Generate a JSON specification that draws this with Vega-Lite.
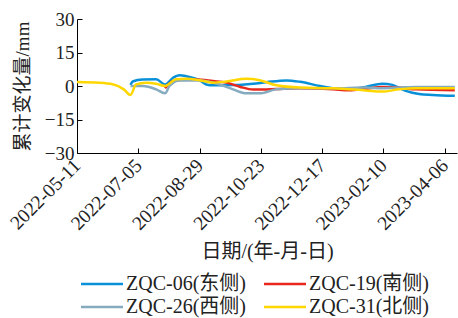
{
  "$schema": "https://vega.github.io/schema/vega-lite/v6.json",
  "autosize": "none",
  "width": 380,
  "height": 134,
  "padding": {"left": 77, "top": 19, "right": 1, "bottom": 165},
  "background": "white",
  "config": {
    "view": {"stroke": null},
    "font": "Liberation Serif, Noto Sans CJK SC",
    "axis": {"grid": false, "domainColor": "#000", "tickColor": "#000", "labelColor": "#222", "titleColor": "#222", "labelFont": "Liberation Serif", "labelFontSize": 16, "titleFont": "Liberation Serif, Noto Sans CJK SC", "titleFontSize": 16, "titleFontWeight": "normal"}
  },
  "data": {"values": [
    {"date": "2022-06-28", "series": "ZQC-06(东侧)", "value": 0.5},
    {"date": "2022-06-30", "series": "ZQC-06(东侧)", "value": 2.0},
    {"date": "2022-07-09", "series": "ZQC-06(东侧)", "value": 2.9},
    {"date": "2022-07-21", "series": "ZQC-06(东侧)", "value": 3.0},
    {"date": "2022-07-29", "series": "ZQC-06(东侧)", "value": 0.7},
    {"date": "2022-08-05", "series": "ZQC-06(东侧)", "value": 3.6},
    {"date": "2022-08-11", "series": "ZQC-06(东侧)", "value": 4.8},
    {"date": "2022-08-17", "series": "ZQC-06(东侧)", "value": 4.4},
    {"date": "2022-08-29", "series": "ZQC-06(东侧)", "value": 2.6},
    {"date": "2022-09-04", "series": "ZQC-06(东侧)", "value": 0.7},
    {"date": "2022-09-10", "series": "ZQC-06(东侧)", "value": 0.3},
    {"date": "2022-09-28", "series": "ZQC-06(东侧)", "value": 0.4},
    {"date": "2022-10-16", "series": "ZQC-06(东侧)", "value": 1.0},
    {"date": "2022-10-28", "series": "ZQC-06(东侧)", "value": 1.7},
    {"date": "2022-11-15", "series": "ZQC-06(东侧)", "value": 2.5},
    {"date": "2022-11-27", "series": "ZQC-06(东侧)", "value": 1.9},
    {"date": "2022-12-15", "series": "ZQC-06(东侧)", "value": 0.0},
    {"date": "2022-12-27", "series": "ZQC-06(东侧)", "value": -1.0},
    {"date": "2023-01-10", "series": "ZQC-06(东侧)", "value": -1.5},
    {"date": "2023-01-25", "series": "ZQC-06(东侧)", "value": -0.4},
    {"date": "2023-02-09", "series": "ZQC-06(东侧)", "value": 1.0},
    {"date": "2023-02-18", "series": "ZQC-06(东侧)", "value": 0.5},
    {"date": "2023-03-02", "series": "ZQC-06(东侧)", "value": -2.2},
    {"date": "2023-03-14", "series": "ZQC-06(东侧)", "value": -3.6},
    {"date": "2023-03-26", "series": "ZQC-06(东侧)", "value": -4.0},
    {"date": "2023-04-15", "series": "ZQC-06(东侧)", "value": -4.4},

    {"date": "2022-07-29", "series": "ZQC-19(南侧)", "value": -1.0},
    {"date": "2022-08-05", "series": "ZQC-19(南侧)", "value": 2.2},
    {"date": "2022-08-14", "series": "ZQC-19(南侧)", "value": 2.8},
    {"date": "2022-08-26", "series": "ZQC-19(南侧)", "value": 2.9},
    {"date": "2022-09-10", "series": "ZQC-19(南侧)", "value": 2.2},
    {"date": "2022-09-22", "series": "ZQC-19(南侧)", "value": 1.5},
    {"date": "2022-10-04", "series": "ZQC-19(南侧)", "value": -0.3},
    {"date": "2022-10-16", "series": "ZQC-19(南侧)", "value": -1.6},
    {"date": "2022-10-28", "series": "ZQC-19(南侧)", "value": -1.6},
    {"date": "2022-11-12", "series": "ZQC-19(南侧)", "value": -1.2},
    {"date": "2022-11-27", "series": "ZQC-19(南侧)", "value": -1.0},
    {"date": "2022-12-27", "series": "ZQC-19(南侧)", "value": -1.5},
    {"date": "2023-01-10", "series": "ZQC-19(南侧)", "value": -1.9},
    {"date": "2023-01-25", "series": "ZQC-19(南侧)", "value": -1.2},
    {"date": "2023-02-09", "series": "ZQC-19(南侧)", "value": -0.4},
    {"date": "2023-02-24", "series": "ZQC-19(南侧)", "value": -0.7},
    {"date": "2023-03-11", "series": "ZQC-19(南侧)", "value": -1.5},
    {"date": "2023-04-15", "series": "ZQC-19(南侧)", "value": -1.9},

    {"date": "2022-06-28", "series": "ZQC-26(西侧)", "value": 0.0},
    {"date": "2022-07-09", "series": "ZQC-26(西侧)", "value": 0.0},
    {"date": "2022-07-21", "series": "ZQC-26(西侧)", "value": -1.5},
    {"date": "2022-07-29", "series": "ZQC-26(西侧)", "value": -3.3},
    {"date": "2022-08-02", "series": "ZQC-26(西侧)", "value": 0.0},
    {"date": "2022-08-11", "series": "ZQC-26(西侧)", "value": 2.5},
    {"date": "2022-08-29", "series": "ZQC-26(西侧)", "value": 2.5},
    {"date": "2022-09-16", "series": "ZQC-26(西侧)", "value": 0.7},
    {"date": "2022-09-28", "series": "ZQC-26(西侧)", "value": -1.5},
    {"date": "2022-10-10", "series": "ZQC-26(西侧)", "value": -3.3},
    {"date": "2022-10-22", "series": "ZQC-26(西侧)", "value": -3.3},
    {"date": "2022-11-06", "series": "ZQC-26(西侧)", "value": -1.5},
    {"date": "2022-11-27", "series": "ZQC-26(西侧)", "value": -1.0},
    {"date": "2022-12-27", "series": "ZQC-26(西侧)", "value": -1.0},
    {"date": "2023-01-25", "series": "ZQC-26(西侧)", "value": -0.7},
    {"date": "2023-02-09", "series": "ZQC-26(西侧)", "value": -1.0},
    {"date": "2023-02-24", "series": "ZQC-26(西侧)", "value": -0.7},
    {"date": "2023-03-11", "series": "ZQC-26(西侧)", "value": -0.4},
    {"date": "2023-04-15", "series": "ZQC-26(西侧)", "value": -0.4},

    {"date": "2022-05-11", "series": "ZQC-31(北侧)", "value": 1.8},
    {"date": "2022-05-31", "series": "ZQC-31(北侧)", "value": 1.5},
    {"date": "2022-06-12", "series": "ZQC-31(北侧)", "value": 0.8},
    {"date": "2022-06-22", "series": "ZQC-31(北侧)", "value": -1.5},
    {"date": "2022-06-28", "series": "ZQC-31(北侧)", "value": -4.0},
    {"date": "2022-07-03", "series": "ZQC-31(北侧)", "value": 0.7},
    {"date": "2022-07-12", "series": "ZQC-31(北侧)", "value": 1.5},
    {"date": "2022-07-21", "series": "ZQC-31(北侧)", "value": 1.0},
    {"date": "2022-07-29", "series": "ZQC-31(北侧)", "value": 0.0},
    {"date": "2022-08-08", "series": "ZQC-31(北侧)", "value": 3.0},
    {"date": "2022-08-17", "series": "ZQC-31(北侧)", "value": 3.2},
    {"date": "2022-08-29", "series": "ZQC-31(北侧)", "value": 2.6},
    {"date": "2022-09-10", "series": "ZQC-31(北侧)", "value": 1.5},
    {"date": "2022-09-22", "series": "ZQC-31(北侧)", "value": 2.0},
    {"date": "2022-10-10", "series": "ZQC-31(北侧)", "value": 3.2},
    {"date": "2022-10-22", "series": "ZQC-31(北侧)", "value": 2.6},
    {"date": "2022-11-06", "series": "ZQC-31(北侧)", "value": 0.3},
    {"date": "2022-11-27", "series": "ZQC-31(北侧)", "value": -0.7},
    {"date": "2022-12-27", "series": "ZQC-31(北侧)", "value": -1.0},
    {"date": "2023-01-25", "series": "ZQC-31(北侧)", "value": -2.0},
    {"date": "2023-02-09", "series": "ZQC-31(北侧)", "value": -2.5},
    {"date": "2023-02-24", "series": "ZQC-31(北侧)", "value": -1.5},
    {"date": "2023-03-11", "series": "ZQC-31(北侧)", "value": -1.0},
    {"date": "2023-04-15", "series": "ZQC-31(北侧)", "value": -1.0}
  ]},
  "mark": {"type": "line", "interpolate": "monotone", "strokeWidth": 2.5},
  "encoding": {
    "x": {
      "field": "date", "type": "temporal",
      "scale": {"type": "utc", "domain": [{"year": 2022, "month": 5, "date": 11, "utc": true}, {"year": 2023, "month": 4, "date": 17, "utc": true}]},
      "axis": {
        "title": "日期/(年-月-日)",
        "values": [
          {"year": 2022, "month": 5, "date": 11, "utc": true},
          {"year": 2022, "month": 7, "date": 5, "utc": true},
          {"year": 2022, "month": 8, "date": 29, "utc": true},
          {"year": 2022, "month": 10, "date": 23, "utc": true},
          {"year": 2022, "month": 12, "date": 17, "utc": true},
          {"year": 2023, "month": 2, "date": 10, "utc": true},
          {"year": 2023, "month": 4, "date": 6, "utc": true}
        ],
        "labelExpr": "utcFormat(datum.value, '%Y-%m-%d')",
        "labelOverlap": false, "labelBound": false, "labelFlush": false,
        "labelAngle": -45, "labelAlign": "right", "labelBaseline": "middle",
        "tickSize": -5, "labelPadding": 14, "labelFontSize": 19.5,
        "titleFontSize": 20, "titleY": 98, "titleBaseline": "middle"
      }
    },
    "y": {
      "field": "value", "type": "quantitative",
      "scale": {"domain": [-30, 30], "nice": false},
      "axis": {"title": "累计变化量/mm", "values": [-30, -15, 0, 15, 30], "tickSize": -5, "labelPadding": 8, "labelFontSize": 19, "labelOverlap": false, "titleFontSize": 19, "titleX": -55, "titleBaseline": "middle"}
    },
    "color": {
      "field": "series", "type": "nominal",
      "scale": {"domain": ["ZQC-06(东侧)", "ZQC-19(南侧)", "ZQC-26(西侧)", "ZQC-31(北侧)"], "range": ["#0a90d8", "#e8281c", "#86abbf", "#ffd700"]},
      "legend": {"title": null, "orient": "none", "legendX": 13, "legendY": 253, "direction": "horizontal", "columns": 2, "symbolType": "M-2,0L2,0", "symbolSize": 441, "symbolStrokeWidth": 2.5, "labelFont": "Liberation Serif, Noto Sans CJK SC", "labelFontSize": 20, "labelColor": "#222", "columnPadding": 13, "rowPadding": 1, "labelOffset": 12}
    }
  }
}
